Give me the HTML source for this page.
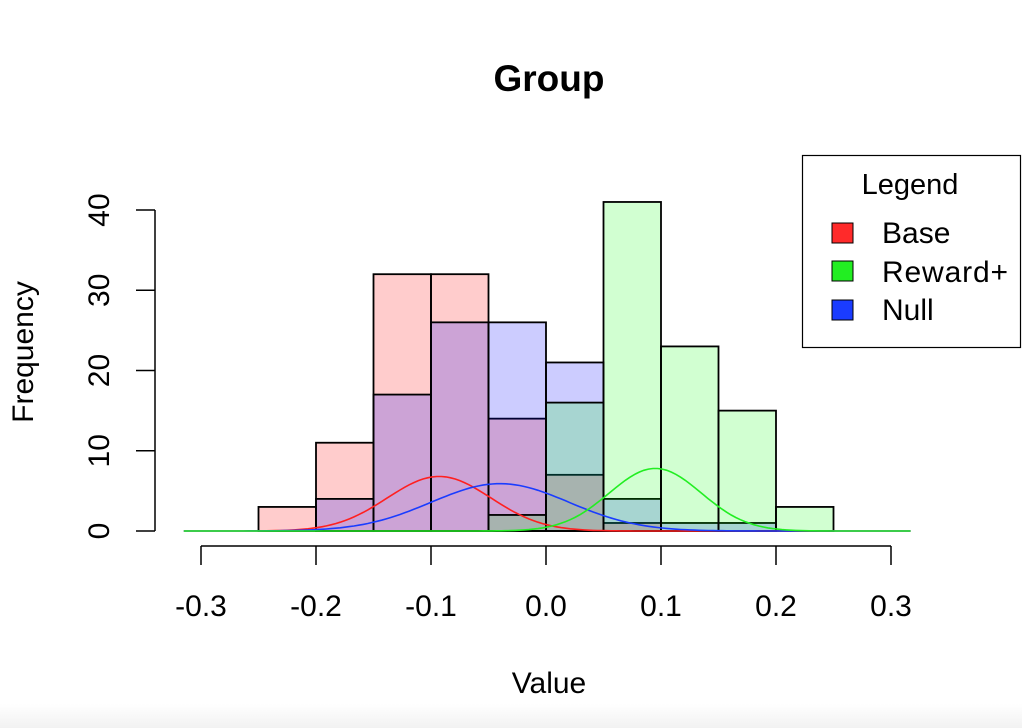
<!DOCTYPE html>
<html><head><meta charset="utf-8"><style>
html,body{margin:0;padding:0;background:#fff;}
svg{display:block;font-family:"Liberation Sans",Arial,sans-serif;}
</style></head><body>
<svg id="chart" width="1022" height="728" viewBox="0 0 1022 728" xmlns="http://www.w3.org/2000/svg">
<defs><linearGradient id="bg" x1="0" y1="0" x2="0" y2="1"><stop offset="0" stop-color="#fff"/><stop offset="1" stop-color="#f2f2f2"/></linearGradient></defs>
<rect width="1022" height="728" fill="#fff"/>
<rect x="0" y="704" width="1022" height="24" fill="url(#bg)"/>
<text x="549" y="91" font-size="37" font-weight="bold" text-anchor="middle">Group</text>
<g id="bars"></g>
<g id="curves"></g>
<g id="axes"></g>
<text x="549" y="693" font-size="30" text-anchor="middle">Value</text>
<text transform="translate(33,352) rotate(-90)" font-size="30" text-anchor="middle">Frequency</text>
<g>
<rect x="802.5" y="155.5" width="218" height="192" fill="#fff" stroke="#000" stroke-width="1.2"/>
<text x="910" y="194" font-size="29" text-anchor="middle">Legend</text>
<rect x="832" y="223" width="21" height="20" fill="#ff2a2a" stroke="#000"/>
<text x="882" y="243" font-size="30">Base</text>
<rect x="832" y="261" width="21" height="20" fill="#22ee22" stroke="#000"/>
<text x="882" y="282" font-size="30" textLength="126">Reward+</text>
<rect x="832" y="300" width="21" height="20" fill="#1a3cff" stroke="#000"/>
<text x="882" y="320" font-size="30">Null</text>
</g>
</svg>
<script>
const binStarts = [-0.25,-0.2,-0.15,-0.1,-0.05,0,0.05,0.1,0.15,0.2];
const baseCounts = [3,11,32,32,14,7,1,0,0,0];
const rewardCounts = [0,0,0,0,2,16,41,23,15,3];
const nullCounts = [0,4,17,26,26,21,4,1,1,0];
const xTicks = [-0.3,-0.2,-0.1,0.0,0.1,0.2,0.3];
const yTicks = [0,10,20,30,40];
const curveMeans = [-0.093,0.095,-0.04];
const curveSds = [0.045,0.04,0.06];
const curvePeaks = [6.8,7.8,5.9];

const NS="http://www.w3.org/2000/svg";
const binW=0.05;
function sx(v){return 546+v*1150;}
function sy(v){return 531-v*8.025;}
function mk(tag,attrs,parent){const e=document.createElementNS(NS,tag);for(const k in attrs)e.setAttribute(k,attrs[k]);parent.appendChild(e);return e;}
const bars=document.getElementById('bars'),curves=document.getElementById('curves'),axes=document.getElementById('axes');
const series=[[baseCounts,'rgba(255,0,0,0.2)','base'],[nullCounts,'rgba(0,0,255,0.2)','null'],[rewardCounts,'rgba(0,255,0,0.18)','reward']];
series.forEach(s=>{
  s[0].forEach((c,i)=>{
    if(c<=0)return;
    const x0=sx(binStarts[i]),x1=sx(binStarts[i]+binW);
    const r=mk('rect',{x:x0,y:sy(c),width:x1-x0,height:sy(0)-sy(c),fill:s[1],stroke:'#000','stroke-width':1.8},bars);
    
    
  });
});
const cols=['#ff2020','#22ee22','#1a3cff'],names=['base','reward','null'];
[0,2,1].forEach(k=>{
  let d='';
  for(let v=-0.315;v<=0.3201;v+=0.004){
    const y=curvePeaks[k]*Math.exp(-0.5*Math.pow((v-curveMeans[k])/curveSds[k],2));
    d+=(d?'L':'M')+sx(v).toFixed(1)+','+sy(y).toFixed(1);
  }
  const p=mk('path',{d:d,fill:'none',stroke:cols[k],'stroke-width':1.6},curves);
  
  
});
mk('line',{x1:sx(xTicks[0]),x2:sx(xTicks[xTicks.length-1]),y1:546,y2:546,stroke:'#000','stroke-width':1.5},axes);
xTicks.forEach(t=>{
  mk('line',{x1:sx(t),x2:sx(t),y1:546,y2:565,stroke:'#000','stroke-width':1.5},axes);
  const tx=mk('text',{x:sx(t),y:616,'font-size':30,'text-anchor':'middle'},axes);
  tx.textContent=t.toFixed(1);
  
  
});
mk('line',{x1:155,x2:155,y1:sy(0),y2:sy(40),stroke:'#000','stroke-width':1.5},axes);
yTicks.forEach(t=>{
  mk('line',{x1:136,x2:155,y1:sy(t),y2:sy(t),stroke:'#000','stroke-width':1.5},axes);
  const tx=mk('text',{transform:'translate(109,'+sy(t)+') rotate(-90)','font-size':30,'text-anchor':'middle'},axes);
  tx.textContent=t;
  
  
});
</script>
</body></html>
